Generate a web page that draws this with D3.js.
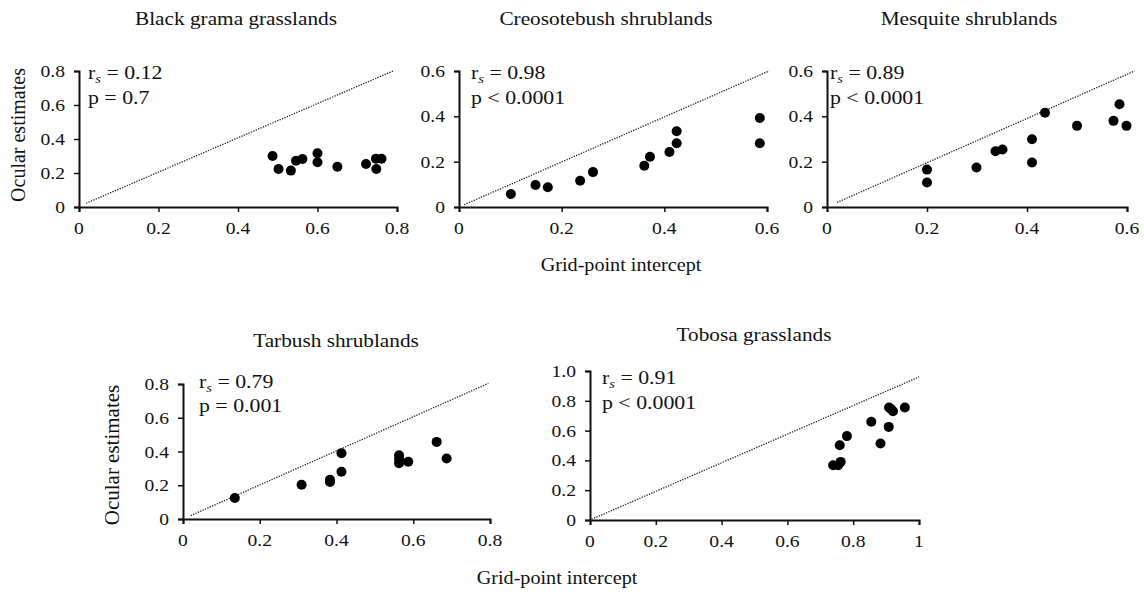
<!DOCTYPE html>
<html>
<head>
<meta charset="utf-8">
<script src="https://cdn.jsdelivr.net/npm/d3@7"></script>
<style>
  body { margin: 0; background: #fff; }
  text { font-family: "Liberation Serif", "Times New Roman", serif; fill: #111; }
</style>
</head>
<body>
<script>
// Data: [grid-point intercept, ocular estimate]
const titles = ["Black grama grasslands", "Creosotebush shrublands", "Mesquite shrublands",
                "Tarbush shrublands", "Tobosa grasslands"];

const blackGrama = [[0.487,0.30],[0.502,0.224],[0.533,0.214],[0.546,0.272],[0.562,0.282],
  [0.600,0.316],[0.600,0.263],[0.650,0.237],[0.722,0.253],[0.747,0.284],[0.748,0.224],[0.761,0.284]];
const creosote = [[0.101,0.057],[0.149,0.097],[0.173,0.087],[0.236,0.116],[0.261,0.154],
  [0.361,0.182],[0.372,0.222],[0.410,0.243],[0.424,0.281],[0.424,0.334],[0.586,0.393],[0.586,0.281]];
const mesquite = [[0.200,0.165],[0.200,0.108],[0.299,0.174],[0.337,0.246],[0.351,0.254],
  [0.410,0.299],[0.410,0.196],[0.436,0.416],[0.500,0.358],[0.573,0.380],[0.585,0.453],[0.599,0.358]];
const tarbush = [[0.135,0.124],[0.309,0.203],[0.383,0.232],[0.383,0.219],[0.413,0.390],
  [0.413,0.280],[0.563,0.378],[0.563,0.355],[0.563,0.331],[0.587,0.339],[0.661,0.457],[0.687,0.358]];
const tobosa = [[0.739,0.368],[0.754,0.368],[0.762,0.390],[0.759,0.502],[0.781,0.563],
  [0.855,0.659],[0.883,0.514],[0.908,0.625],[0.909,0.755],[0.921,0.730],[0.915,0.745],[0.957,0.755]];

const rsValues = ["0.12", "0.98", "0.89", "0.79", "0.91"];
const pLabels = ["p = 0.7", "p < 0.0001", "p < 0.0001", "p = 0.001", "p < 0.0001"];

// 1:1 reference line ends [x0, y0, x1, y1]
const refLines = [[0.018,0.022,0.79,0.80],[0.01,0.01,0.604,0.6],[0.02,0.02,0.615,0.6],
  [0.02,0.02,0.796,0.804],[0.005,0.005,1.0,0.96]];

const xTicks = [[0,0.2,0.4,0.6,0.8],[0,0.2,0.4,0.6],[0,0.2,0.4,0.6],[0,0.2,0.4,0.6,0.8],[0,0.2,0.4,0.6,0.8,1]];
const yTicks = [[0,0.2,0.4,0.6,0.8],[0,0.2,0.4,0.6],[0,0.2,0.4,0.6],[0,0.2,0.4,0.6,0.8],[0,0.2,0.4,0.6,0.8,1]];

const series = [blackGrama, creosote, mesquite, tarbush, tobosa];

// panel boxes in page pixels
const panels = [
  {x0: 79,  x1: 397, y0: 207, y1: 71,  titleX: 236, titleY: 25,  rsY: 79,  pY: 104, annX: 88},
  {x0: 459, x1: 767, y0: 207, y1: 71,  titleX: 606, titleY: 25,  rsY: 79,  pY: 104, annX: 471},
  {x0: 827, x1: 1127, y0: 207, y1: 71, titleX: 969, titleY: 25,  rsY: 79,  pY: 104, annX: 830},
  {x0: 183, x1: 490, y0: 519, y1: 384, titleX: 336, titleY: 347, rsY: 388, pY: 412, annX: 199},
  {x0: 590, x1: 919, y0: 520, y1: 371, titleX: 754, titleY: 341, rsY: 384, pY: 409, annX: 602}
];

const W = 1144, H = 592;
const stretch = 1.12;

const svg = d3.select("body").append("svg")
    .attr("width", W)
    .attr("height", H);

function label(g, x, y, txt, size, anchor) {
  return g.append("text")
    .attr("transform", `translate(${x},${y}) scale(${stretch},1)`)
    .attr("text-anchor", anchor || "middle")
    .style("font-size", size + "px")
    .text(txt);
}

const fmt = d => d === 0 ? "0" : (d === 1 ? "1" : d3.format(".1f")(d));

panels.forEach((p, i) => {
  const g = svg.append("g");
  const xMax = d3.max(xTicks[i]);
  const yMax = d3.max(yTicks[i]);

  const xScale = d3.scaleLinear().domain([0, xMax]).range([p.x0, p.x1]);
  const yScale = d3.scaleLinear().domain([0, yMax]).range([p.y0, p.y1]);

  // axes
  const xAxis = d3.axisBottom(xScale).tickValues(xTicks[i]).tickSize(5).tickSizeOuter(5).tickFormat("");
  const yAxis = d3.axisLeft(yScale).tickValues(yTicks[i]).tickSize(5).tickSizeOuter(5).tickFormat("");

  const gx = g.append("g").attr("transform", `translate(0,${p.y0})`).call(xAxis);
  const gy = g.append("g").attr("transform", `translate(${p.x0},0)`).call(yAxis);
  [gx, gy].forEach(a => {
    a.select(".domain").attr("stroke", "#111").attr("stroke-width", 2);
    a.selectAll(".tick line").attr("stroke", "#111").attr("stroke-width", 1.5);
  });

  // tick labels
  const tickSize = 17.5;
  xTicks[i].forEach(t => label(g, xScale(t), p.y0 + 27, fmt(t), tickSize));
  // last tick of tobosa y is "1.0"
  yTicks[i].forEach(t => {
    const s = (i === 4 && t === 1) ? "1.0" : fmt(t);
    label(g, p.x0 - 14, yScale(t) + 6, s, tickSize, "end");
  });

  // dotted 1:1 line
  const r = refLines[i];
  g.append("line")
    .attr("x1", xScale(r[0])).attr("y1", yScale(r[1]))
    .attr("x2", xScale(r[2])).attr("y2", yScale(r[3]))
    .attr("stroke", "#222")
    .attr("stroke-width", 1.3)
    .attr("stroke-dasharray", "1.3,1.3");

  // points
  g.selectAll("circle")
    .data(series[i])
    .join("circle")
    .attr("cx", d => xScale(d[0]))
    .attr("cy", d => yScale(d[1]))
    .attr("r", 5)
    .attr("fill", "#000");

  // title
  label(g, p.titleX, p.titleY, titles[i], 19);

  // stats
  const rs = g.append("text")
    .attr("transform", `translate(${p.annX},${p.rsY}) scale(${stretch},1)`)
    .style("font-size", "19.5px");
  rs.append("tspan").text("r");
  rs.append("tspan").attr("dy", 4).style("font-size", "13px").style("font-style", "italic").text("s");
  rs.append("tspan").attr("dy", -4).text(" = " + rsValues[i]);
  label(g, p.annX, p.pY, pLabels[i], 19.5, "start");
});

// axis titles
svg.append("text")
  .attr("transform", "translate(25,135) rotate(-90)")
  .attr("text-anchor", "middle")
  .style("font-size", "20px")
  .text("Ocular estimates");
svg.append("text")
  .attr("transform", "translate(119,455) rotate(-90)")
  .attr("text-anchor", "middle")
  .style("font-size", "21px")
  .text("Ocular estimates");

label(svg, 621, 271, "Grid-point intercept", 18);
label(svg, 557, 584, "Grid-point intercept", 18);
</script>
</body>
</html>
